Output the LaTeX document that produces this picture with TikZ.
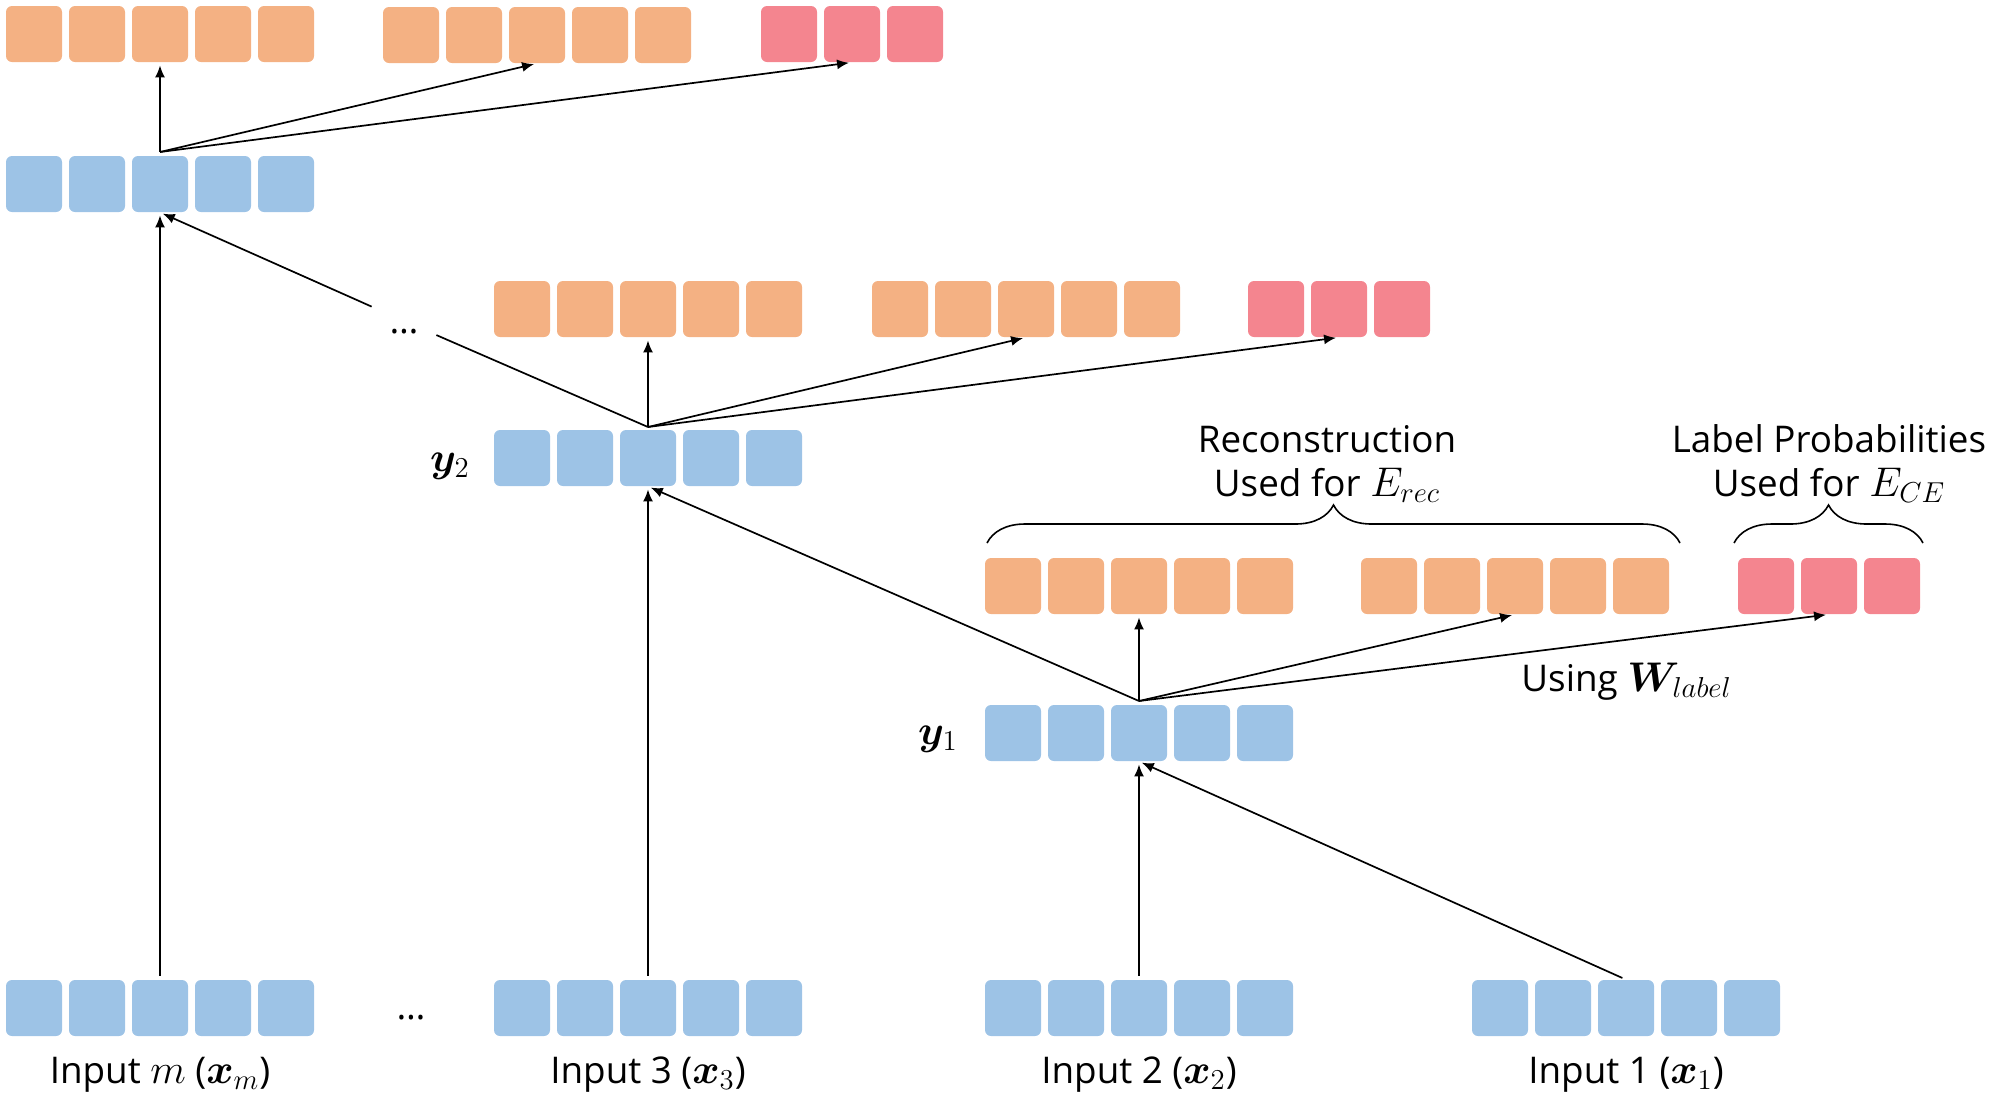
\documentclass[tikz,border=0pt]{standalone}
\usepackage[no-math]{fontspec}
\setmainfont{Open Sans}
\usepackage{bm}
\DeclareMathSizes{18.4}{21}{15.5}{12}
\usetikzlibrary{arrows.meta,decorations.pathreplacing}
\definecolor{cblue}{HTML}{9DC3E6}
\definecolor{corange}{HTML}{F4B183}
\definecolor{cpink}{HTML}{F4858F}
\newcommand\cellgroup[5]{%
  \foreach \i in {1,...,#5}{\node[#2] (#1-\i) at ({#3+28+63*(\i-1)},#4) {};}}
\begin{document}
\begin{tikzpicture}[x=0.5pt,y=-0.5pt,
  cell/.style={minimum width=28pt,minimum height=28pt,inner sep=0pt,rounded corners=3pt,draw=none},
  bluecell/.style={cell,fill=cblue},
  orcell/.style={cell,fill=corange},
  pkcell/.style={cell,fill=cpink},
  arr/.style={-{Latex[length=6pt,width=5pt]},line width=0.85pt,shorten >=1.5pt},
  conn/.style={line width=0.85pt},
  lbl/.style={font=\fontsize{18.4}{22}\selectfont,inner sep=0pt,anchor=base},
  bracestyle/.style={decorate,decoration={brace,amplitude=19pt},line width=0.8pt},
  ]
\useasboundingbox (0,0) rectangle (2012,1115);
% cell rows
\cellgroup{T1}{orcell}{6}{34}{5}
\cellgroup{T2}{orcell}{383}{35}{5}
\cellgroup{T3}{pkcell}{761}{34}{3}
\cellgroup{H}{bluecell}{6}{184}{5}
\cellgroup{S1}{orcell}{494}{309}{5}
\cellgroup{S2}{orcell}{872}{309}{5}
\cellgroup{S3}{pkcell}{1248}{309}{3}
\cellgroup{Y2}{bluecell}{494}{458}{5}
\cellgroup{R1}{orcell}{985}{586}{5}
\cellgroup{R2}{orcell}{1361}{586}{5}
\cellgroup{R3}{pkcell}{1738}{586}{3}
\cellgroup{Y1}{bluecell}{985}{733}{5}
\cellgroup{Bm}{bluecell}{6}{1008}{5}
\cellgroup{B3}{bluecell}{494}{1008}{5}
\cellgroup{B2}{bluecell}{985}{1008}{5}
\cellgroup{B1}{bluecell}{1472}{1008}{5}
% origins of the fan-out arrows
\coordinate (oH) at (160,152);
\coordinate (oY2) at (648,427);
\coordinate (oY1) at (1139,701);
% dots
\node[font=\fontsize{18.4}{22}\selectfont,inner sep=0pt,text height=12pt,text depth=0pt,
      minimum width=32pt,minimum height=16pt] (dots1) at (404,321) {…};
\node[lbl] (dots2) at (411,1019) {…};
% labels
\node[lbl] (lm) at (160,1083) {Input $m$ ($\bm{x}_m$)};
\node[lbl] (l3) at (648,1083) {Input 3 ($\bm{x}_3$)};
\node[lbl] (l2) at (1139,1083) {Input 2 ($\bm{x}_2$)};
\node[lbl] (l1) at (1626,1083) {Input 1 ($\bm{x}_1$)};
\node[lbl,anchor=base east] (ly2) at (470,471) {$\bm{y}_2$};
\node[lbl,anchor=base east] (ly1) at (958,744) {$\bm{y}_1$};
\node[lbl,anchor=base west] (lw) at (1521,691) {Using $\bm{W}_{label}$};
\node[lbl] (rec1) at (1327,452) {Reconstruction};
\node[lbl] (rec2) at (1327,496) {Used for $E_{rec}$};
\node[lbl] (lp1) at (1829,452) {Label Probabilities};
\node[lbl] (lp2) at (1829,496) {Used for $E_{CE}$};
% braces
\draw[bracestyle] (987,543) -- (1680,543);
\draw[bracestyle] (1734,543) -- (1923,543);
% top level
\draw[arr] (oH) -- (T1-3.south);
\draw[arr] (oH) -- (T2-3.south);
\draw[arr] (oH) -- (T3-2.south);
\draw[arr,shorten <=2pt] (Bm-3.north) -- (H-3.south);
\draw[conn] (oY2) -- (dots1);
\draw[arr] (dots1) -- (H-3.south);
% y2 level
\draw[arr] (oY2) -- (S1-3.south);
\draw[arr] (oY2) -- (S2-3.south);
\draw[arr] (oY2) -- (S3-2.south);
\draw[arr,shorten <=2pt] (B3-3.north) -- (Y2-3.south);
\draw[arr] (oY1) -- (Y2-3.south);
% y1 level
\draw[arr] (oY1) -- (R1-3.south);
\draw[arr] (oY1) -- (R2-3.south);
\draw[arr] (oY1) -- (R3-2.south);
\draw[arr,shorten <=2pt] (B2-3.north) -- (Y1-3.south);
\draw[arr,shorten <=2pt] (B1-3.north) -- (Y1-3.south);
\end{tikzpicture}
\end{document}
